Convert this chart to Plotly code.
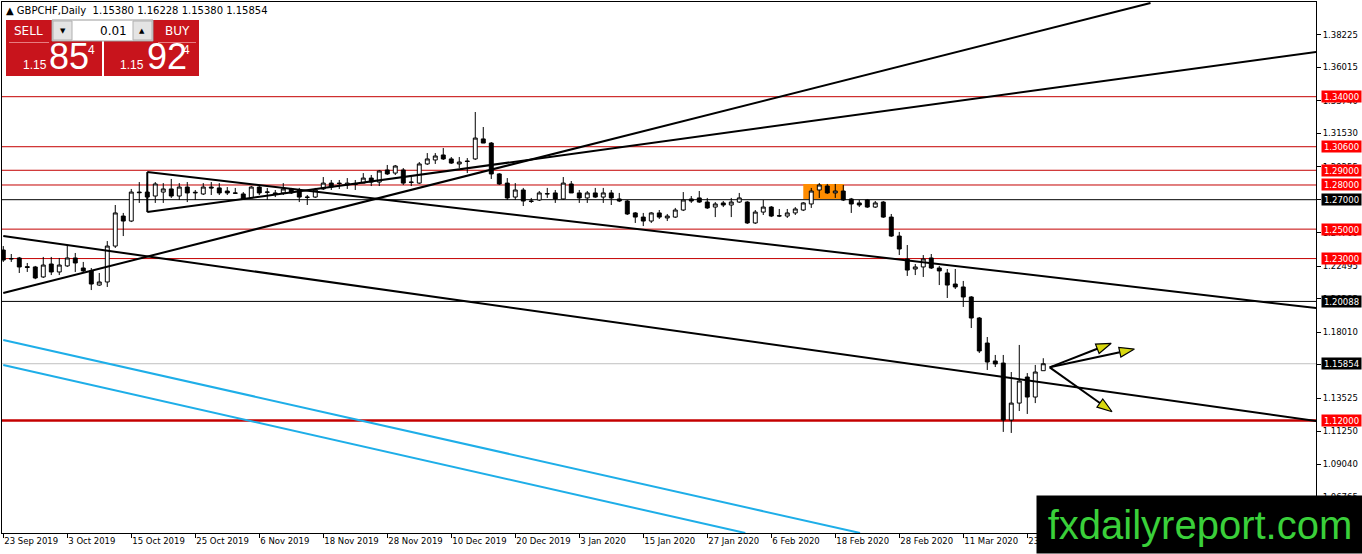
import math
import plotly.graph_objects as go

# GBPCHF daily candles, bar 0 = 23 Sep 2019 (weekdays, no 25 Dec / 1 Jan)
opens = [1.2358, 1.2297, 1.2304, 1.2245, 1.2243, 1.2175, 1.2263, 1.2209, 1.2250, 1.2304,
         1.2236, 1.2216, 1.2120, 1.2141, 1.2385, 1.2589, 1.2555, 1.2752, 1.2752, 1.2725,
         1.2752, 1.2773, 1.2725, 1.2786, 1.2746, 1.2739, 1.2786, 1.2780, 1.2759, 1.2746,
         1.2739, 1.2712, 1.2786, 1.2750, 1.2746, 1.2746, 1.2773, 1.2766, 1.2718, 1.2718,
         1.2773, 1.2813, 1.2813, 1.2800, 1.2807, 1.2813, 1.2847, 1.2820, 1.2902, 1.2881,
         1.2902, 1.2820, 1.2813, 1.2943, 1.2970, 1.3004, 1.2977, 1.2943, 1.2963, 1.2977,
         1.3113, 1.3085, 1.2875, 1.2813, 1.2718, 1.2766, 1.2691, 1.2698, 1.2739, 1.2746,
         1.2705, 1.2807, 1.2746, 1.2712, 1.2746, 1.2718, 1.2746, 1.2705, 1.2691, 1.2610,
         1.2582, 1.2555, 1.2610, 1.2576, 1.2582, 1.2630, 1.2705, 1.2712, 1.2684, 1.2650,
         1.2678, 1.2664, 1.2684, 1.2684, 1.2542, 1.2616, 1.2650, 1.2589, 1.2589, 1.2610,
         1.2630, 1.2671, 1.2766, 1.2793, 1.2746, 1.2759, 1.2705, 1.2678, 1.2698, 1.2650,
         1.2684, 1.2582, 1.2453, 1.2297, 1.2229, 1.2243, 1.2304, 1.2236, 1.2202, 1.2127,
         1.2107, 1.2039, 1.1896, 1.1726, 1.1604, 1.1590, 1.1203, 1.1318, 1.1495, 1.1359,
         1.15380]
highs = [1.2385, 1.2331, 1.2311, 1.2270, 1.2250, 1.2311, 1.2311, 1.2304, 1.2392, 1.2338,
         1.2277, 1.2236, 1.2202, 1.2419, 1.2664, 1.2610, 1.2773, 1.2820, 1.2813, 1.2820,
         1.2813, 1.2841, 1.2813, 1.2820, 1.2766, 1.2813, 1.2820, 1.2813, 1.2786, 1.2780,
         1.2752, 1.2793, 1.2800, 1.2780, 1.2766, 1.2813, 1.2780, 1.2780, 1.2732, 1.2780,
         1.2854, 1.2834, 1.2834, 1.2847, 1.2834, 1.2881, 1.2868, 1.2902, 1.2936, 1.2936,
         1.2915, 1.2854, 1.2956, 1.3017, 1.3017, 1.3051, 1.2990, 1.2990, 1.2983, 1.3296,
         1.3194, 1.3092, 1.2881, 1.2847, 1.2813, 1.2780, 1.2712, 1.2759, 1.2780, 1.2766,
         1.2854, 1.2827, 1.2766, 1.2759, 1.2780, 1.2780, 1.2766, 1.2746, 1.2698, 1.2616,
         1.2610, 1.2616, 1.2630, 1.2603, 1.2644, 1.2752, 1.2725, 1.2759, 1.2712, 1.2684,
         1.2691, 1.2712, 1.2746, 1.2690, 1.2630, 1.2698, 1.2657, 1.2637, 1.2637, 1.2650,
         1.2684, 1.2780, 1.2813, 1.2807, 1.2807, 1.2800, 1.2712, 1.2698, 1.2705, 1.2691,
         1.2691, 1.2603, 1.2481, 1.2392, 1.2263, 1.2324, 1.2331, 1.2250, 1.2229, 1.2229,
         1.2148, 1.2045, 1.1903, 1.1767, 1.1645, 1.1645, 1.1529, 1.1713, 1.1522, 1.1577,
         1.16228]
lows = [1.2277, 1.2277, 1.2202, 1.2209, 1.2160, 1.2168, 1.2188, 1.2188, 1.2243, 1.2209,
        1.2202, 1.2086, 1.2114, 1.2107, 1.2372, 1.2453, 1.2548, 1.2678, 1.2678, 1.2678,
        1.2678, 1.2712, 1.2698, 1.2684, 1.2698, 1.2732, 1.2732, 1.2732, 1.2732, 1.2739,
        1.2698, 1.2712, 1.2732, 1.2698, 1.2718, 1.2732, 1.2739, 1.2684, 1.2664, 1.2712,
        1.2766, 1.2766, 1.2773, 1.2773, 1.2766, 1.2813, 1.2793, 1.2793, 1.2868, 1.2868,
        1.2800, 1.2793, 1.2807, 1.2936, 1.2943, 1.2970, 1.2943, 1.2915, 1.2881, 1.2970,
        1.3085, 1.2841, 1.2800, 1.2698, 1.2698, 1.2657, 1.2678, 1.2691, 1.2712, 1.2678,
        1.2698, 1.2746, 1.2678, 1.2678, 1.2712, 1.2678, 1.2664, 1.2684, 1.2596, 1.2542,
        1.2521, 1.2542, 1.2569, 1.2555, 1.2576, 1.2623, 1.2678, 1.2678, 1.2637, 1.2582,
        1.2650, 1.2582, 1.2678, 1.2535, 1.2535, 1.2596, 1.2582, 1.2582, 1.2576, 1.2596,
        1.2623, 1.2644, 1.2712, 1.2739, 1.2712, 1.2691, 1.2610, 1.2650, 1.2644, 1.2644,
        1.2576, 1.2447, 1.2324, 1.2182, 1.2188, 1.2175, 1.2229, 1.2120, 1.2032, 1.2093,
        1.1971, 1.1828, 1.1658, 1.1543, 1.1563, 1.1122, 1.1115, 1.1264, 1.1244, 1.1318,
        1.15380]
closes = [1.2290, 1.2300, 1.2243, 1.2240, 1.2168, 1.2256, 1.2209, 1.2256, 1.2304, 1.2270,
          1.2216, 1.2127, 1.2141, 1.2385, 1.2610, 1.2555, 1.2752, 1.2748, 1.2718, 1.2807,
          1.2773, 1.2725, 1.2786, 1.2746, 1.2750, 1.2786, 1.2780, 1.2746, 1.2746, 1.2744,
          1.2705, 1.2786, 1.2746, 1.2752, 1.2739, 1.2773, 1.2746, 1.2718, 1.2716, 1.2766,
          1.2813, 1.2786, 1.2810, 1.2813, 1.2804, 1.2847, 1.2820, 1.2895, 1.2875, 1.2929,
          1.2813, 1.2818, 1.2943, 1.2977, 1.2997, 1.2977, 1.2949, 1.2956, 1.2960, 1.3119,
          1.3085, 1.2875, 1.2807, 1.2712, 1.2766, 1.2691, 1.2689, 1.2746, 1.2741, 1.2705,
          1.2813, 1.2746, 1.2712, 1.2746, 1.2718, 1.2746, 1.2712, 1.2691, 1.2603, 1.2582,
          1.2555, 1.2610, 1.2582, 1.2589, 1.2630, 1.2698, 1.2691, 1.2684, 1.2644, 1.2671,
          1.2664, 1.2684, 1.2712, 1.2542, 1.2616, 1.2650, 1.2589, 1.2591, 1.2610, 1.2637,
          1.2678, 1.2759, 1.2800, 1.2746, 1.2759, 1.2698, 1.2671, 1.2664, 1.2650, 1.2678,
          1.2582, 1.2453, 1.2365, 1.2222, 1.2243, 1.2297, 1.2236, 1.2216, 1.2120, 1.2107,
          1.2039, 1.1896, 1.1672, 1.1597, 1.1584, 1.1203, 1.1318, 1.1468, 1.1359, 1.1529,
          1.15854]
bars = list(range(len(closes)))

date_ticks = [0, 8, 16, 24, 32, 40, 48, 56, 64, 72, 80, 88, 96, 104, 112, 120, 128]
date_labels = ["23 Sep 2019", "3 Oct 2019", "15 Oct 2019", "25 Oct 2019", "6 Nov 2019",
               "18 Nov 2019", "28 Nov 2019", "10 Dec 2019", "20 Dec 2019", "3 Jan 2020",
               "15 Jan 2020", "27 Jan 2020", "6 Feb 2020", "18 Feb 2020", "28 Feb 2020",
               "11 Mar 2020", "23 Mar 2020"]
price_ticks = [1.38225, 1.36015, 1.33740, 1.31530, 1.29255, 1.27020, 1.24760, 1.22495,
               1.20285, 1.18010, 1.15800, 1.13525, 1.11250, 1.09040, 1.06765]

red_levels = [1.34, 1.306, 1.29, 1.28, 1.25, 1.23]
black_levels = [1.27, 1.20088]
support_level = 1.12
bid_price = 1.15854

# trend lines as (bar, price) end points
trend_lines = [
    ([0, 143.4], [1.2066, 1.4037]),
    ([18, 164.1], [1.2616, 1.3704]),
    ([18, 164.1], [1.2888, 1.1964]),
    ([0, 164.1], [1.2453, 1.1196]),
    ([18, 18], [1.2616, 1.2888]),
]
channel_lines = [
    ([0, 107.1], [1.1747, 1.0435]),
    ([0, 92.75], [1.1577, 1.0435]),
]
box_bars = [100, 105.1]
box_prices = [1.2705, 1.2807]

arrow_from = (130.8, 1.1561)
arrow_tip_bars = [138.5, 141.4, 138.6]
arrow_tip_prices = [1.1724, 1.1685, 1.1259]

# page geometry
W, H = 1362, 554
ML, MR, MT, MB = 2, 46, 2, 21
PW, PH = W - ML - MR, H - MT - MB
x_range = [-0.16, -0.16 + PW / 8.0]
y_range = [1.04351, 1.40435]
PXB = PW / (x_range[1] - x_range[0])
PXP = PH / (y_range[1] - y_range[0])


def fx(p):
    return (p - ML) / PW


def fy(p):
    return (MT + PH - p) / PH


RED = "#c40000"
FONT = "DejaVu Sans"

fig = go.Figure()

fig.add_trace(go.Candlestick(
    x=bars, open=opens, high=highs, low=lows, close=closes,
    increasing=dict(line=dict(color="black", width=1), fillcolor="white"),
    decreasing=dict(line=dict(color="black", width=1), fillcolor="black"),
    hoverinfo="skip", showlegend=False,
))

for xs, ys in trend_lines:
    fig.add_trace(go.Scatter(x=xs, y=ys, mode="lines", line=dict(color="black", width=2),
                             hoverinfo="skip", showlegend=False))
for xs, ys in channel_lines:
    fig.add_trace(go.Scatter(x=xs, y=ys, mode="lines", line=dict(color="#1eaee8", width=2),
                             hoverinfo="skip", showlegend=False))

# arrows with yellow heads
for tb, tp in zip(arrow_tip_bars, arrow_tip_prices):
    dx = (tb - arrow_from[0]) * PXB
    dy = (tp - arrow_from[1]) * PXP
    n = math.hypot(dx, dy)
    ux, uy = dx / n, dy / n
    bx, by = -15 * ux, -15 * uy
    pts = [(0, 0), (bx - 5 * uy, by + 5 * ux), (bx + 5 * uy, by - 5 * ux), (0, 0)]
    fig.add_trace(go.Scatter(x=[arrow_from[0], tb + bx / PXB], y=[arrow_from[1], tp + by / PXP],
                             mode="lines", line=dict(color="black", width=2),
                             hoverinfo="skip", showlegend=False))
    fig.add_trace(go.Scatter(x=[tb + a / PXB for a, b in pts], y=[tp + b / PXP for a, b in pts],
                             mode="lines", fill="toself", fillcolor="#d8d810",
                             line=dict(color="black", width=1.2),
                             hoverinfo="skip", showlegend=False))

shapes = []
shapes.append(dict(type="rect", xref="x", yref="y", x0=box_bars[0], x1=box_bars[1],
                   y0=box_prices[0], y1=box_prices[1], fillcolor="#ff8c00",
                   line=dict(width=0), layer="below"))
for lv in red_levels:
    shapes.append(dict(type="line", xref="paper", yref="y", x0=0, x1=1, y0=lv, y1=lv,
                       line=dict(color=RED, width=1), layer="below"))
for lv in black_levels:
    shapes.append(dict(type="line", xref="paper", yref="y", x0=0, x1=1, y0=lv, y1=lv,
                       line=dict(color="black", width=1), layer="below"))
shapes.append(dict(type="line", xref="paper", yref="y", x0=0, x1=1, y0=bid_price, y1=bid_price,
                   line=dict(color="#c0c0c0", width=1), layer="below"))
shapes.append(dict(type="line", xref="paper", yref="y", x0=0, x1=1, y0=support_level,
                   y1=support_level, line=dict(color=RED, width=2.5), layer="below"))

# one-click trading panel


def prect(x0, y0, x1, y1, fill, line=None):
    return dict(type="rect", xref="paper", yref="paper", x0=fx(x0), x1=fx(x1),
                y0=fy(y1), y1=fy(y0), fillcolor=fill,
                line=line or dict(width=0), layer="above")


shapes += [
    prect(6, 20, 102, 76, "#c8141c"),
    prect(104, 20, 199, 76, "#c8141c"),
    prect(52, 20, 153, 41, "white", dict(color="#9a9a9a", width=1)),
    prect(53, 21, 72, 40, "#e4e4e4", dict(color="#b0b0b0", width=1)),
    prect(133, 21, 152, 40, "#e4e4e4", dict(color="#b0b0b0", width=1)),
    prect(9, 42, 49, 43, "#e77c80"),
    prect(158, 42, 196, 43, "#e77c80"),
]

ann = []


def ptext(x, y, text, size, color="white", anchor="left", family=FONT):
    ann.append(dict(xref="paper", yref="paper", x=fx(x), y=fy(y), text=text,
                    showarrow=False, xanchor=anchor, yanchor="middle",
                    font=dict(family=family, size=size, color=color)))


ptext(4, 10, "▲ GBPCHF,Daily  1.15380 1.16228 1.15380 1.15854", 10, "black")
ptext(28, 31, "SELL", 12, anchor="center")
ptext(177, 31, "BUY", 12, anchor="center")
ptext(129, 31, "0.01", 12, "black", anchor="right")
ptext(63, 31, "▼", 7, "black", anchor="center")
ptext(142, 31, "▲", 7, "black", anchor="center")
ptext(21, 65, "1.15", 12, family="Liberation Sans")
ptext(47, 57, "85", 36, family="Liberation Sans")
ptext(86, 50, "4", 12, family="Liberation Sans")
ptext(118, 65, "1.15", 12, family="Liberation Sans")
ptext(145, 57, "92", 36, family="Liberation Sans")
ptext(181, 50, "4", 12, family="Liberation Sans")

# price labels on the right scale
label_rows = [(lv, "#ff0000") for lv in red_levels + [support_level]]
label_rows += [(lv, "black") for lv in black_levels + [bid_price]]
for lv, bg in label_rows:
    ann.append(dict(xref="paper", yref="y", x=1, y=lv, xanchor="left", yanchor="middle",
                    xshift=5, text=f"{lv:.5f}", showarrow=False, bgcolor=bg,
                    width=37, height=9, borderpad=1,
                    font=dict(family=FONT, size=8.5, color="white")))

ann.append(dict(xref="paper", yref="paper", x=fx(1036), y=fy(554), xanchor="left",
                yanchor="bottom", text="fxdailyreport.com", showarrow=False,
                bgcolor="black", width=326, height=57, borderpad=0,
                font=dict(family="Liberation Sans", size=40, color="#3ad03a")))

fig.update_layout(
    width=W, height=H,
    margin=dict(l=ML, r=MR, t=MT, b=MB),
    paper_bgcolor="white", plot_bgcolor="white",
    shapes=shapes, annotations=ann,
    showlegend=False,
    xaxis=dict(range=x_range, tickvals=date_ticks, ticktext=date_labels,
               ticks="outside", ticklen=4, tickcolor="black",
               ticklabelposition="outside right",
               tickfont=dict(family=FONT, size=8.5, color="black"),
               showgrid=False, zeroline=False, showline=True, linecolor="black",
               linewidth=1, mirror=True, rangeslider=dict(visible=False), fixedrange=True),
    yaxis=dict(range=y_range, side="right", tickvals=price_ticks,
               ticktext=[f"{v:.5f}" for v in price_ticks],
               ticks="outside", ticklen=4, tickcolor="black",
               tickfont=dict(family=FONT, size=8.5, color="black"),
               showgrid=False, zeroline=False, showline=True, linecolor="black",
               linewidth=1, mirror=True, fixedrange=True),
)

fig.write_html("out.html", config={"displayModeBar": False},
               post_script="document.body.style.margin='0';")
